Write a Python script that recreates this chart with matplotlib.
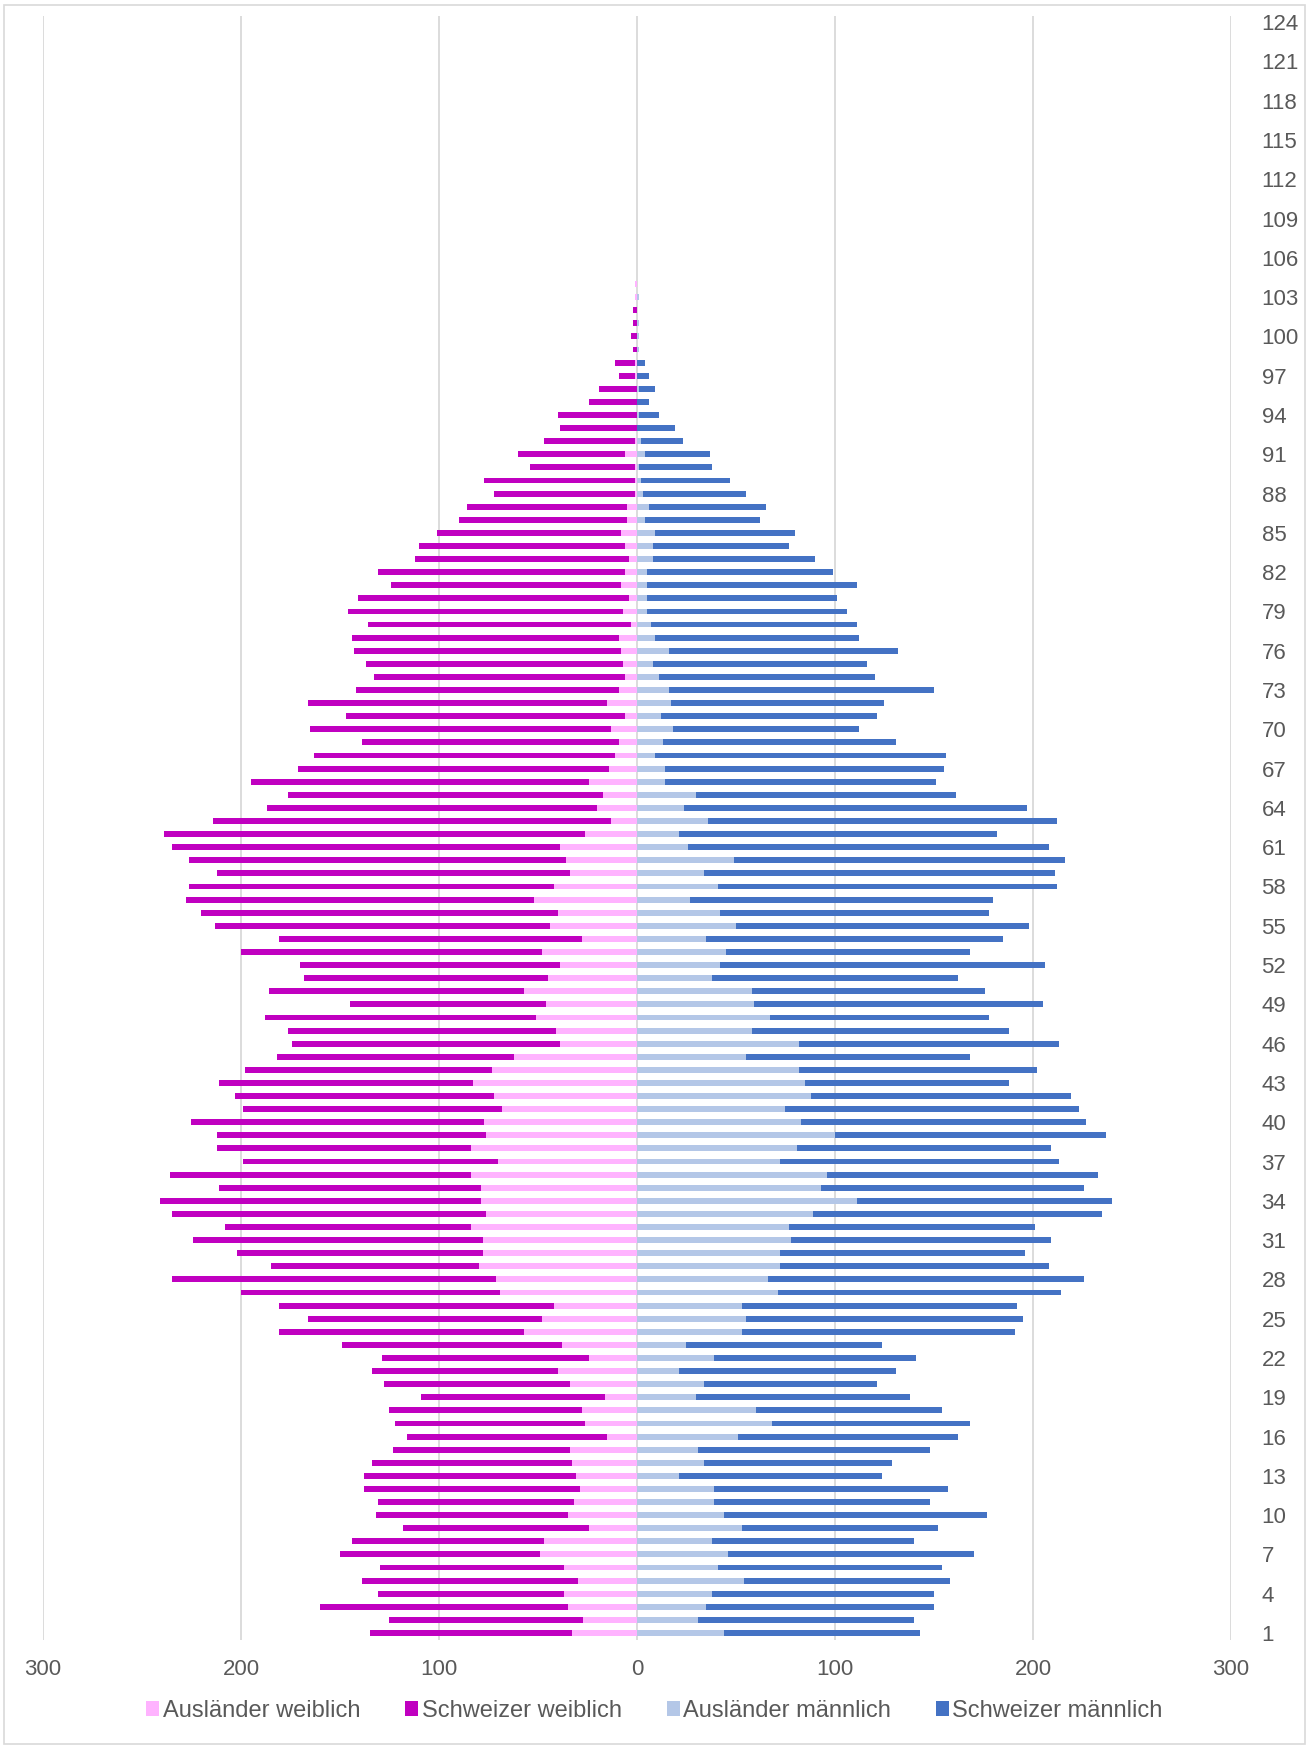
import numpy as np
import matplotlib.pyplot as plt
from matplotlib.patches import Rectangle

plt.rcParams['font.family'] = ['Liberation Sans', 'DejaVu Sans']

# ages 1..104, ages 105..124 are empty
auslaender_w = [33, 27, 35, 37, 30, 37, 49, 47, 24, 35,
                32, 29, 31, 33, 34, 15, 26, 28, 16, 34,
                40, 24, 38, 57, 48, 42, 69, 71, 80, 78,
                78, 84, 76, 79, 79, 84, 70, 84, 76, 77,
                68, 72, 83, 73, 62, 39, 41, 51, 46, 57,
                45, 39, 48, 28, 44, 40, 52, 42, 34, 36,
                39, 26, 13, 20, 17, 24, 14, 11, 9, 13,
                6, 15, 9, 6, 7, 8, 9, 3, 7, 4,
                8, 6, 4, 6, 8, 5, 5, 1, 1, 1,
                6, 1, 0, 0, 0, 0, 1, 1, 0, 0,
                0, 0, 1, 1]
# total women (Ausländer + Schweizer)
total_w = [135, 125, 160, 131, 139, 130, 150, 144, 118, 132,
           131, 138, 138, 134, 123, 116, 122, 125, 109, 128,
           134, 129, 149, 181, 166, 181, 200, 235, 185, 202,
           224, 208, 235, 241, 211, 236, 199, 212, 212, 225,
           199, 203, 211, 198, 182, 174, 176, 188, 145, 186,
           168, 170, 200, 181, 213, 220, 228, 226, 212, 226,
           235, 239, 214, 187, 176, 195, 171, 163, 139, 165,
           147, 166, 142, 133, 137, 143, 144, 136, 146, 141,
           124, 131, 112, 110, 101, 90, 86, 72, 77, 54,
           60, 47, 39, 40, 24, 19, 9, 11, 2, 3,
           2, 2, 1, 1]
auslaender_m = [44, 31, 35, 38, 54, 41, 46, 38, 53, 44,
                39, 39, 21, 34, 31, 51, 68, 60, 30, 34,
                21, 39, 25, 53, 55, 53, 71, 66, 72, 72,
                78, 77, 89, 111, 93, 96, 72, 81, 100, 83,
                75, 88, 85, 82, 55, 82, 58, 67, 59, 58,
                38, 42, 45, 35, 50, 42, 27, 41, 34, 49,
                26, 21, 36, 24, 30, 14, 14, 9, 13, 18,
                12, 17, 16, 11, 8, 16, 9, 7, 5, 5,
                5, 5, 8, 8, 9, 4, 6, 3, 2, 1,
                4, 2, 0, 1, 0, 1, 0, 0, 1, 1,
                1, 0, 1, 0]
# total men (Ausländer + Schweizer)
total_m = [143, 140, 150, 150, 158, 154, 170, 140, 152, 177,
           148, 157, 124, 129, 148, 162, 168, 154, 138, 121,
           131, 141, 124, 191, 195, 192, 214, 226, 208, 196,
           209, 201, 235, 240, 226, 233, 213, 209, 237, 227,
           223, 219, 188, 202, 168, 213, 188, 178, 205, 176,
           162, 206, 168, 185, 198, 178, 180, 212, 211, 216,
           208, 182, 212, 197, 161, 151, 155, 156, 131, 112,
           121, 125, 150, 120, 116, 132, 112, 111, 106, 101,
           111, 99, 90, 77, 80, 62, 65, 55, 47, 38,
           37, 23, 19, 11, 6, 9, 6, 4, 1, 1,
           1, 0, 1, 0]

pad = [0] * 20
ages = np.arange(1, 125)
aw = np.array(auslaender_w + pad)
sw = np.array(total_w + pad) - aw
am = np.array(auslaender_m + pad)
sm = np.array(total_m + pad) - am

c_aw = '#FFB3FF'
c_sw = '#C000C0'
c_am = '#B4C7E7'
c_sm = '#4472C4'
grey = '#595959'

fig = plt.figure(figsize=(13.09, 17.47), dpi=100)
ax = fig.add_axes([0.0328, 0.0615, 0.9076, 0.9296])

h = 0.45
ax.barh(ages, -aw, height=h, color=c_aw, label='Ausländer weiblich', zorder=2)
ax.barh(ages, -sw, left=-aw, height=h, color=c_sw, label='Schweizer weiblich', zorder=2)
ax.barh(ages, am, height=h, color=c_am, label='Ausländer männlich', zorder=2)
ax.barh(ages, sm, left=am, height=h, color=c_sm, label='Schweizer männlich', zorder=2)

ax.set_xlim(-300, 300)
ax.set_ylim(0.5, 124.5)
ax.set_xticks([-300, -200, -100, 0, 100, 200, 300])
ax.set_xticklabels(['300', '200', '100', '0', '100', '200', '300'])
ax.set_yticks(np.arange(1, 125, 3))
ax.yaxis.tick_right()
ax.tick_params(axis='y', length=0, pad=22, labelsize=16, labelcolor=grey)
ax.tick_params(axis='x', length=0, pad=14, labelsize=16, labelcolor=grey)
ax.grid(axis='x', color='#D9D9D9', linewidth=1.3, zorder=0)
ax.set_axisbelow(True)
for s in ax.spines.values():
    s.set_visible(False)

leg = fig.legend(loc='center', bbox_to_anchor=(0.5, 0.0205), ncol=4, frameon=False,
                 fontsize=17, handlelength=0.55, handleheight=0.6, handletextpad=0.15,
                 columnspacing=1.9)
for t in leg.get_texts():
    t.set_color(grey)

fig.patches.append(Rectangle((0.003, 0.002), 0.994, 0.995, transform=fig.transFigure,
                             fill=False, edgecolor='#D9D9D9', linewidth=1.2))

fig.savefig('out.png', dpi=100)
